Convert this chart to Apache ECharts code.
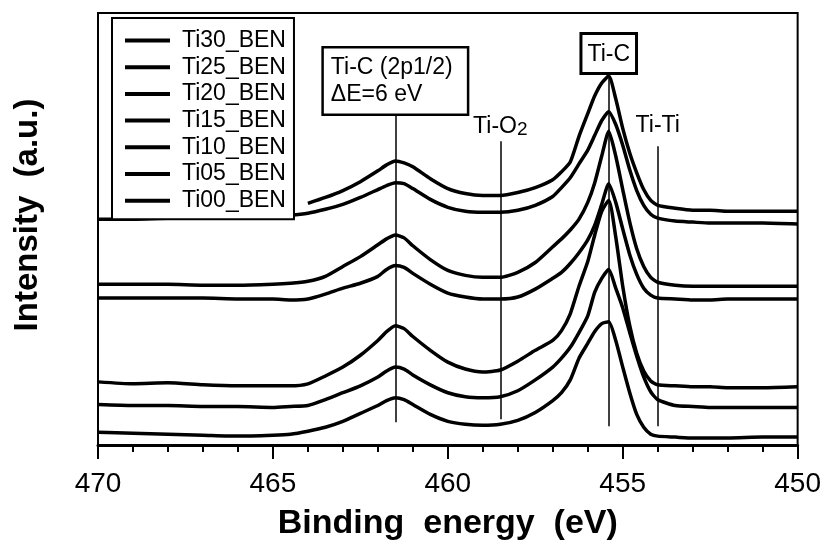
<!DOCTYPE html>
<html>
<head>
<meta charset="utf-8">
<script src="https://cdn.jsdelivr.net/npm/echarts@6/dist/echarts.min.js"></script>
<style>
  html, body { margin: 0; padding: 0; background: #fff; }
  #chart { width: 824px; height: 546px; }
</style>
</head>
<body>
<div id="chart"></div>
<script>
// binding energy (eV), shared by all spectra
const energy = [470, 469, 468, 467, 466, 465, 464.5, 464, 463.5, 463,
  462.5, 462, 461.75, 461.5, 461.25, 461, 460.5, 460, 459.5, 459,
  458.5, 458, 457.5, 457, 456.75, 456.5, 456.25, 456, 455.8, 455.6,
  455.4, 455.2, 455, 454.8, 454.6, 454.4, 454.2, 454, 453.5, 453,
  452.5, 452, 451, 450]

// stacked intensities (a.u.), top curve first
const ti30 = [null, null, null, null, null, null, null, 245, 251, 258,
  267, 278, 284, 288, 286, 282, 270, 260, 255, 253,
  253, 256, 261, 269, 277, 287, 313, 336, 354, 367,
  374, 351, 321, 296, 276, 259, 248, 243, 240, 238,
  238, 237, 237, 237]
const ti25 = [229, 229, 230, 230, 231, 232, 233, 235, 239, 244,
  251, 259, 263, 266, 265, 260, 249, 241, 237, 236,
  236, 238, 243, 252, 261, 271, 285, 299, 314, 329,
  338, 325, 304, 279, 258, 243, 234, 230, 227, 226,
  225, 225, 225, 224]
const ti20 = [163, 163, 163, 162, 162, 163, 164, 166, 171, 181,
  191, 203, 209, 213, 210, 202, 188, 177, 172, 170,
  170, 175, 185, 201, 209, 218, 229, 246, 266, 293,
  318, 293, 259, 226, 199, 181, 170, 165, 162, 161,
  161, 161, 161, 161]
const ti15 = [149, 149, 149, 149, 148, 148, 147, 148, 153, 159,
  164, 171, 178, 182, 180, 174, 163, 154, 150, 148,
  148, 150, 158, 169, 175, 184, 195, 208, 223, 244,
  265, 246, 219, 193, 173, 159, 152, 149, 148, 147,
  147, 148, 148, 148]
const ti10 = [64, 62, 63, 61, 60, 60, 60, 62, 70, 79,
  91, 106, 115, 121, 118, 110, 96, 84, 77, 74,
  76, 85, 96, 106, 116, 133, 161, 186, 213, 237,
  248, 211, 161, 121, 93, 75, 65, 61, 60, 59,
  59, 58, 58, 59]
const ti05 = [41, 40, 40, 39, 39, 38, 39, 40, 46, 53,
  60, 69, 75, 79, 77, 71, 61, 53, 49, 48,
  49, 55, 66, 79, 88, 99, 114, 131, 155, 169,
  178, 159, 139, 114, 90, 69, 54, 46, 40, 39,
  38, 38, 38, 38]
const ti00 = [13, 12, 11, 10, 9, 10, 11, 14, 18, 24,
  32, 40, 45, 48, 46, 41, 31, 24, 21, 20,
  21, 25, 33, 45, 53, 66, 88, 103, 115, 123,
  125, 106, 79, 53, 31, 18, 11, 9, 8, 7,
  7, 7, 8, 8]

const seriesNames = ['Ti30_BEN', 'Ti25_BEN', 'Ti20_BEN', 'Ti15_BEN', 'Ti10_BEN', 'Ti05_BEN', 'Ti00_BEN']
const seriesValues = [ti30, ti25, ti20, ti15, ti10, ti05, ti00]

// reference lines: energy, bottom and top of the line
const refLines = [
  { name: 'Ti-C (2p1/2)', e: 461.5, y0: 23, y1: 336 },
  { name: 'Ti-O2', e: 458.5, y0: 26, y1: 308 },
  { name: 'Ti-C', e: 455.4, y0: 19, y1: 374 },
  { name: 'Ti-Ti', e: 454.0, y0: 19, y1: 303 }
]

const FONT = '"Liberation Sans", Arial, Helvetica, sans-serif'

const labelStyles = {
  'Ti-C (2p1/2)': {
    formatter: '{a|Ti-C (2p1/2)}\n{a|ΔE=6 eV}',
    rich: { a: { fontSize: 23, lineHeight: 27, width: 131, align: 'left', color: '#000', fontFamily: FONT } },
    borderColor: '#000', borderWidth: 2.5, padding: [6, 5, 5, 7], backgroundColor: '#fff', distance: 0
  },
  'Ti-O2': {
    formatter: '{a|Ti-O}{s|2}', distance: 2,
    rich: { a: { fontSize: 23, fontFamily: FONT, color: '#000', lineHeight: 26 },
      s: { fontSize: 19, fontFamily: FONT, color: '#000', lineHeight: 14, verticalAlign: 'bottom' } }
  },
  'Ti-C': {
    formatter: 'Ti-C', fontSize: 23, borderColor: '#000', borderWidth: 3,
    padding: [8, 5, 6, 5], backgroundColor: '#fff', distance: 4
  },
  'Ti-Ti': { formatter: 'Ti-Ti', fontSize: 23, distance: 9 }
}

const markData = refLines.map(r => [
  {
    coord: [r.e, r.y0],
    label: Object.assign({ show: true, position: 'end', color: '#000', fontFamily: FONT }, labelStyles[r.name])
  },
  { coord: [r.e, r.y1] }
])

const series = seriesNames.map((name, i) => ({
  name: name,
  type: 'line',
  data: energy.map((e, j) => [e, seriesValues[i][j]]),
  showSymbol: false,
  symbol: 'none',
  smooth: 0.2,
  connectNulls: false,
  lineStyle: { color: '#000', width: 3.5 },
  itemStyle: { color: '#000' },
  animation: false,
  z: 3
}))

series[series.length - 1].markLine = {
  silent: true,
  symbol: ['none', 'none'],
  animation: false,
  lineStyle: { color: '#000', width: 1.5, type: 'solid' },
  data: markData,
  z: 2
}

const chart = echarts.init(document.getElementById('chart'), null, { renderer: 'canvas' })

chart.setOption({
  backgroundColor: '#fff',
  animation: false,
  textStyle: { fontFamily: FONT, color: '#000' },
  grid: {
    left: 98, right: 24, top: 13, bottom: 95,
    show: true, borderColor: '#000', borderWidth: 2, backgroundColor: 'transparent'
  },
  legend: {
    data: seriesNames,
    orient: 'vertical',
    left: 112,
    top: 18,
    icon: 'rect',
    itemWidth: 45,
    itemHeight: 4,
    itemGap: 3.7,
    padding: [11, 8, 7, 13],
    borderColor: '#000',
    borderWidth: 2,
    backgroundColor: '#fff',
    selectedMode: false,
    textStyle: { fontSize: 23, lineHeight: 23, color: '#000', fontFamily: FONT, padding: [0, 0, 0, 7] },
    z: 10
  },
  xAxis: {
    type: 'value',
    min: 450,
    max: 470,
    interval: 5,
    inverse: true,
    name: 'Binding  energy  (eV)',
    nameLocation: 'middle',
    nameGap: 62,
    nameTextStyle: { fontSize: 34, fontWeight: 'bold', color: '#000', fontFamily: FONT },
    axisLine: { show: true, lineStyle: { color: '#000', width: 3 } },
    axisTick: { show: true, inside: false, length: 14, lineStyle: { color: '#000', width: 2 } },
    minorTick: { show: true, splitNumber: 5, length: 7, lineStyle: { color: '#000', width: 2 } },
    axisLabel: { fontSize: 28, color: '#000', margin: 25, fontFamily: FONT },
    splitLine: { show: false }
  },
  yAxis: {
    type: 'value',
    min: 0,
    max: 438,
    name: 'Intensity  (a.u.)',
    nameLocation: 'middle',
    nameRotate: 90,
    nameGap: 54,
    nameTextStyle: { fontSize: 33, fontWeight: 'bold', color: '#000', fontFamily: FONT, padding: [0, 0, 0, 28] },
    axisLine: { show: false },
    axisTick: { show: false },
    axisLabel: { show: false },
    splitLine: { show: false }
  },
  series: series
})

window.addEventListener('resize', () => chart.resize())
</script>
</body>
</html>
